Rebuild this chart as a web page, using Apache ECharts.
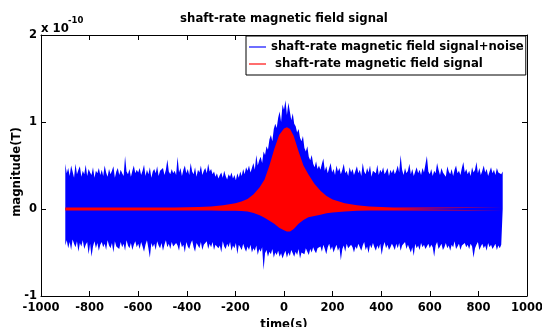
<!DOCTYPE html>
<html>
<head>
<meta charset="utf-8">
<script src="https://cdn.jsdelivr.net/npm/echarts@6/dist/echarts.min.js"></script>
<style>html,body{margin:0;padding:0;background:#fff;overflow:hidden}#c{width:542px;height:327px}</style>
</head>
<body>
<div id="c"></div>
<script>
// ---- data (values in units of 1e-10 T) ----
const titleText = 'shaft-rate magnetic field signal';
const blueName = 'shaft-rate magnetic field signal+noise';
const redName = ' shaft-rate magnetic field signal';
const xTicks = [-1000, -800, -600, -400, -200, 0, 200, 400, 600, 800, 1000];
const yTicks = [-1, 0, 1, 2];

// noisy signal: per-sample upper/lower extent, samples every 6 s from -900 s to 900 s
const blueStart = -900, blueStep = 6;
const blueUpper = [
0.52,0.41,0.47,0.38,0.50,0.43,0.36,0.52,0.40,0.45,0.49,0.37,0.44,0.40,0.51,0.38,0.46,0.42,0.39,0.48,0.36,0.44,0.41,0.47,0.39,
0.45,0.38,0.50,0.42,0.37,0.46,0.40,0.44,0.49,0.36,0.43,0.47,0.39,0.45,0.41,0.38,0.61,0.43,0.40,0.46,0.37,0.44,0.50,0.41,0.45,
0.42,0.47,0.39,0.44,0.51,0.38,0.45,0.40,0.48,0.36,0.43,0.46,0.41,0.49,0.38,0.44,0.42,0.47,0.39,0.45,0.57,0.43,0.40,0.46,0.41,
0.44,0.39,0.60,0.42,0.47,0.38,0.45,0.50,0.41,0.46,0.39,0.53,0.43,0.40,0.48,0.37,0.45,0.42,0.50,0.39,0.44,0.47,0.41,0.52,0.43,
0.46,0.40,0.43,0.37,0.41,0.35,0.39,0.42,0.36,0.44,0.38,0.34,0.40,0.37,0.42,0.35,0.39,0.33,0.41,0.36,0.43,0.38,0.46,0.40,0.48,
0.44,0.50,0.42,0.47,0.53,0.45,0.62,0.50,0.56,0.60,0.53,0.66,0.62,0.72,0.68,0.80,0.85,0.78,0.92,0.98,0.93,1.05,1.12,1.00,1.20,
1.14,1.25,1.08,1.22,1.12,1.02,1.10,0.98,0.95,0.88,0.92,0.82,0.78,0.84,0.70,0.66,0.72,0.60,0.56,0.62,0.52,0.48,0.55,0.46,0.50,
0.45,0.52,0.58,0.44,0.49,0.41,0.47,0.53,0.42,0.46,0.39,0.50,0.43,0.47,0.40,0.45,0.52,0.41,0.44,0.38,0.48,0.42,0.46,0.39,0.44,
0.49,0.41,0.45,0.38,0.53,0.43,0.40,0.47,0.42,0.50,0.37,0.44,0.46,0.41,0.51,0.39,0.45,0.42,0.48,0.40,0.43,0.47,0.38,0.45,0.41,
0.46,0.40,0.44,0.50,0.42,0.62,0.45,0.39,0.47,0.41,0.44,0.52,0.40,0.46,0.38,0.43,0.48,0.41,0.45,0.39,0.47,0.42,0.44,0.61,0.43,
0.40,0.46,0.38,0.44,0.41,0.53,0.45,0.39,0.47,0.42,0.44,0.37,0.49,0.43,0.40,0.46,0.38,0.45,0.50,0.41,0.44,0.39,0.47,0.54,0.42,
0.46,0.40,0.44,0.38,0.48,0.42,0.45,0.54,0.41,0.47,0.39,0.44,0.50,0.42,0.46,0.38,0.43,0.48,0.41,0.45,0.39,0.47,0.42,0.44,0.40,
0.43];
const blueLower = [
-0.42,-0.36,-0.45,-0.38,-0.47,-0.35,-0.40,-0.44,-0.37,-0.49,-0.39,-0.43,-0.36,-0.46,-0.41,-0.38,-0.52,-0.40,-0.55,-0.43,-0.37,-0.45,-0.39,-0.48,-0.41,
-0.38,-0.44,-0.40,-0.47,-0.36,-0.42,-0.45,-0.39,-0.50,-0.37,-0.43,-0.41,-0.46,-0.38,-0.44,-0.40,-0.48,-0.36,-0.42,-0.45,-0.39,-0.47,-0.41,-0.37,-0.44,
-0.40,-0.46,-0.38,-0.43,-0.49,-0.41,-0.36,-0.45,-0.56,-0.39,-0.44,-0.40,-0.47,-0.37,-0.42,-0.45,-0.39,-0.48,-0.41,-0.36,-0.44,-0.40,-0.46,-0.38,-0.43,
-0.45,-0.39,-0.42,-0.48,-0.37,-0.44,-0.41,-0.50,-0.38,-0.43,-0.46,-0.40,-0.36,-0.44,-0.49,-0.39,-0.42,-0.45,-0.38,-0.47,-0.41,-0.43,-0.37,-0.46,-0.40,
-0.44,-0.38,-0.47,-0.41,-0.39,-0.45,-0.42,-0.50,-0.37,-0.43,-0.46,-0.40,-0.44,-0.38,-0.48,-0.42,-0.45,-0.39,-0.52,-0.41,-0.44,-0.47,-0.40,-0.45,-0.49,
-0.43,-0.47,-0.41,-0.50,-0.45,-0.48,-0.42,-0.53,-0.46,-0.49,-0.44,-0.70,-0.51,-0.47,-0.55,-0.49,-0.52,-0.46,-0.56,-0.50,-0.53,-0.48,-0.55,-0.51,-0.57,
-0.52,-0.48,-0.56,-0.50,-0.54,-0.47,-0.51,-0.55,-0.49,-0.53,-0.46,-0.57,-0.50,-0.48,-0.52,-0.45,-0.49,-0.53,-0.46,-0.50,-0.44,-0.48,-0.51,-0.45,-0.47,
-0.43,-0.49,-0.41,-0.46,-0.52,-0.44,-0.40,-0.47,-0.43,-0.50,-0.45,-0.41,-0.48,-0.44,-0.59,-0.46,-0.42,-0.49,-0.40,-0.45,-0.47,-0.41,-0.44,-0.50,-0.43,
-0.46,-0.40,-0.44,-0.48,-0.42,-0.38,-0.47,-0.43,-0.51,-0.41,-0.45,-0.39,-0.44,-0.48,-0.42,-0.46,-0.40,-0.53,-0.43,-0.38,-0.45,-0.41,-0.47,-0.44,-0.40,
-0.43,-0.47,-0.40,-0.45,-0.39,-0.48,-0.42,-0.44,-0.38,-0.46,-0.41,-0.43,-0.50,-0.44,-0.54,-0.40,-0.45,-0.42,-0.47,-0.39,-0.44,-0.41,-0.46,-0.43,-0.40,
-0.45,-0.41,-0.44,-0.55,-0.42,-0.38,-0.46,-0.43,-0.40,-0.47,-0.44,-0.39,-0.45,-0.42,-0.48,-0.41,-0.44,-0.37,-0.46,-0.43,-0.40,-0.47,-0.42,-0.44,-0.39,
-0.44,-0.41,-0.46,-0.40,-0.43,-0.56,-0.45,-0.41,-0.38,-0.47,-0.43,-0.40,-0.45,-0.42,-0.48,-0.39,-0.44,-0.41,-0.46,-0.43,-0.40,-0.47,-0.42,-0.45,-0.41,
-0.40];

// clean signal: envelope of the oscillation
const redTime  = [-900,-450,-400,-350,-300,-250,-200,-175,-150,-125,-100,-80,-60,-40,-20,0,12,25,40,60,80,100,125,150,175,200,250,300,350,400,450,900];
const redUpper = [0.016,0.017,0.02,0.024,0.03,0.042,0.065,0.085,0.115,0.17,0.25,0.34,0.50,0.69,0.85,0.925,0.94,0.92,0.84,0.66,0.50,0.40,0.29,0.21,0.15,0.11,0.065,0.044,0.03,0.022,0.018,0.016];
const redLower = [-0.016,-0.016,-0.016,-0.017,-0.018,-0.019,-0.021,-0.023,-0.03,-0.045,-0.072,-0.10,-0.135,-0.17,-0.215,-0.245,-0.26,-0.26,-0.23,-0.17,-0.125,-0.095,-0.08,-0.065,-0.05,-0.04,-0.028,-0.021,-0.018,-0.017,-0.016,-0.016];

// ---- chart ----
const FONT = '"DejaVu Sans", Verdana, sans-serif';
const TXT = 11.7;
const blueTime = blueUpper.map((_, i) => blueStart + blueStep * i);
const toPairs = (xs, ys) => ys.map((v, i) => [xs[i], v]);

function areaSeries(name, xs, ys, color) {
  return {
    name, type: 'line', data: toPairs(xs, ys),
    xAxisIndex: 0, yAxisIndex: 0,
    showSymbol: false, symbol: 'none', silent: true, sampling: null,
    lineStyle: { width: 0, color },
    itemStyle: { color },
    areaStyle: { color, opacity: 1, origin: 0 },
    animation: false
  };
}

const axisCommon = {
  axisLine: { show: true, onZero: false, lineStyle: { color: '#000', width: 1 } },
  axisTick: { show: true, inside: true, length: 5, lineStyle: { color: '#000', width: 1 } },
  splitLine: { show: false },
  axisLabel: { color: '#000', fontFamily: FONT, fontWeight: 'bold', fontSize: 11.5 }
};

const chart = echarts.init(document.getElementById('c'), null, { renderer: 'canvas', width: 542, height: 327 });
chart.setOption({
  animation: false,
  backgroundColor: '#fff',
  title: {
    text: titleText, left: 284, top: 13, padding: 0, textAlign: 'center',
    textStyle: { fontFamily: FONT, fontWeight: 'bold', fontSize: TXT, color: '#000' }
  },
  grid: { left: 41, right: 15, top: 35, bottom: 31, containLabel: false, outerBoundsMode: 'none' },
  xAxis: [
    Object.assign({}, axisCommon, {
      type: 'value', position: 'bottom', min: xTicks[0], max: xTicks[xTicks.length - 1], interval: 200,
      axisLabel: Object.assign({}, axisCommon.axisLabel, { margin: 6, formatter: v => String(v) }),
      name: 'time(s)', nameLocation: 'middle', nameGap: 16,
      nameTextStyle: { fontFamily: FONT, fontWeight: 'bold', fontSize: TXT, color: '#000' }
    }),
    Object.assign({}, axisCommon, {
      type: 'value', position: 'top', min: xTicks[0], max: xTicks[xTicks.length - 1], interval: 200,
      axisLabel: { show: false }
    })
  ],
  yAxis: [
    Object.assign({}, axisCommon, {
      type: 'value', position: 'left', min: yTicks[0], max: yTicks[yTicks.length - 1], interval: 1,
      axisLabel: Object.assign({}, axisCommon.axisLabel, { margin: 4, formatter: v => String(v) })
    }),
    Object.assign({}, axisCommon, {
      type: 'value', position: 'right', min: yTicks[0], max: yTicks[yTicks.length - 1], interval: 1,
      axisLabel: { show: false }
    })
  ],
  legend: {
    orient: 'vertical', left: 246, top: 36,
    backgroundColor: '#fff', borderColor: '#000', borderWidth: 1, borderRadius: 0,
    padding: [4, 2, 4, 3], itemWidth: 17, itemHeight: 2, itemGap: 3,
    selectedMode: false,
    textStyle: { fontFamily: FONT, fontWeight: 'bold', fontSize: TXT, color: '#000', lineHeight: 14 },
    data: [
      { name: blueName, icon: 'rect', itemStyle: { color: '#6e6eff' } },
      { name: redName, icon: 'rect', itemStyle: { color: '#ff6e6e' } }
    ]
  },
  graphic: [
    { type: 'text', left: 41, top: 23, style: { text: 'x 10', fontFamily: FONT, fontWeight: 'bold', fontSize: TXT, fill: '#000' } },
    { type: 'text', left: 68, top: 16, style: { text: '-10', fontFamily: FONT, fontWeight: 'bold', fontSize: 8.5, fill: '#000' } },
    { type: 'text', x: 17, y: 172, rotation: Math.PI / 2,
      style: { text: 'magnitude(T)', fontFamily: FONT, fontWeight: 'bold', fontSize: TXT, fill: '#000', align: 'center', verticalAlign: 'middle' } }
  ],
  series: [
    areaSeries(blueName, blueTime, blueUpper, '#0000ff'),
    areaSeries(blueName, blueTime, blueLower, '#0000ff'),
    areaSeries(redName, redTime, redUpper, '#ff0000'),
    areaSeries(redName, redTime, redLower, '#ff0000')
  ]
});
</script>
</body>
</html>
